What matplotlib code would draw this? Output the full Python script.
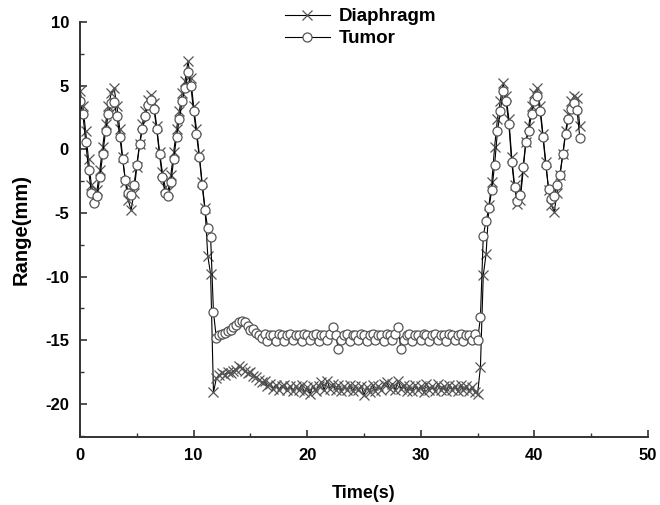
import numpy as np
import matplotlib
matplotlib.use("Agg")
import matplotlib.pyplot as plt
from matplotlib.ticker import MultipleLocator

plt.rcParams['font.family'] = ['Liberation Sans', 'DejaVu Sans']
plt.rcParams['axes.unicode_minus'] = False

sample_interval = 0.25  # s

diaphragm = [
    # 0.00 - 11.75 s
    4.6, 3.4, 1.4, -0.8, -2.8, -3.8, -3.2, -1.6, 0.2, 2.0, 3.4, 4.4,
    4.8, 3.4, 1.6, -0.6, -2.6, -4.0, -4.8, -3.4, -1.4, 0.4, 2.0, 3.0,
    3.9, 4.3, 3.6, 1.8, -0.2, -1.8, -3.0, -3.3, -2.0, -0.2, 1.6, 3.0,
    4.4, 5.4, 6.9, 5.6, 3.4, 1.6, -0.4, -2.6, -4.6, -8.4, -9.8, -19.1,
    # 12.00 - 35.00 s
    -18.0, -17.7, -17.6, -17.7,
    -17.5, -17.6, -17.4, -17.3,
    -17.0, -17.2, -17.4, -17.6,
    -17.5, -17.8, -17.9, -18.1,
    -18.3, -18.2, -18.6, -18.4,
    -18.8, -18.5, -18.9, -18.6,
    -18.5, -18.9, -18.6, -19.0,
    -18.6, -18.9, -18.5, -19.1,
    -18.7, -19.2, -18.6, -19.0,
    -18.6, -18.3, -18.9, -18.2,
    -18.8, -18.4, -18.9, -18.5,
    -19.0, -18.6, -18.9, -18.5,
    -19.0, -18.6, -18.9, -18.6,
    -19.3, -18.7, -19.1, -18.5,
    -19.0, -18.6, -18.9, -18.4,
    -18.3, -18.8, -18.4, -18.9,
    -18.2, -18.8, -18.5, -19.0,
    -18.6, -19.0, -18.5, -18.9,
    -18.6, -19.1, -18.4, -18.9,
    -18.6, -19.0, -18.4, -18.9,
    -18.6, -19.0, -18.5, -18.9,
    -18.6, -19.0, -18.5, -18.9,
    -18.6, -19.0, -18.7, -19.1,
    -19.2,
    # 35.25 - 44.00 s
    -17.1, -9.9, -8.2, -4.4, -2.6, 0.2, 2.4, 3.8, 5.2, 4.2, 2.4, -0.6,
    -2.8, -4.3, -4.0, -1.8, 0.6, 1.8, 3.4, 4.4, 4.8, 3.4, 1.2, -1.0,
    -3.2, -4.4, -4.9, -3.4, -2.0, -0.4, 1.4, 2.8, 3.8, 4.2, 4.0, 1.8,
]

tumor = [
    # 0.00 - 11.75 s
    3.8, 2.8, 0.6, -1.6, -3.4, -4.2, -3.7, -2.2, -0.4, 1.4, 2.8, 3.6,
    3.7, 2.6, 1.0, -0.8, -2.4, -3.4, -3.6, -2.8, -1.2, 0.4, 1.6, 2.6,
    3.5, 3.9, 3.2, 1.6, -0.4, -2.2, -3.4, -3.7, -2.6, -0.8, 1.0, 2.4,
    3.8, 4.8, 6.1, 5.0, 3.0, 1.2, -0.6, -2.8, -4.8, -6.2, -6.9, -12.8,
    # 12.00 - 35.00 s
    -14.8, -14.6, -14.5, -14.4,
    -14.3, -14.2, -14.0, -13.8,
    -13.6, -13.5, -13.6, -13.9,
    -14.2, -14.1, -14.4, -14.6,
    -14.8, -14.5, -15.1, -14.6,
    -14.6, -15.1, -14.5, -14.6,
    -15.1, -14.6, -14.5, -15.0,
    -14.6, -14.6, -15.1, -14.5,
    -14.6, -15.0, -14.6, -14.5,
    -15.1, -14.6, -14.6, -15.0,
    -14.5, -14.0, -14.6, -15.7,
    -15.0, -14.6, -14.5, -15.1,
    -14.6, -14.6, -15.0, -14.5,
    -14.6, -15.1, -14.6, -14.5,
    -15.0, -14.6, -14.6, -15.1,
    -14.5, -14.6, -15.0, -14.5,
    -14.0, -15.7, -15.0, -14.6,
    -14.5, -15.1, -14.6, -14.6,
    -15.0, -14.5, -14.6, -15.1,
    -14.6, -14.5, -15.0, -14.6,
    -14.6, -15.1, -14.5, -14.6,
    -15.0, -14.6, -14.5, -15.1,
    -14.6, -14.6, -15.0, -14.5,
    -15.0,
    # 35.25 - 44.00 s
    -13.2, -6.8, -5.6, -4.6, -3.2, -1.2, 1.4, 3.0, 4.6, 3.8, 2.0, -1.0,
    -3.0, -4.1, -3.6, -1.4, 0.6, 1.4, 2.8, 3.8, 4.2, 3.0, 1.0, -1.2,
    -3.1, -3.9, -3.7, -2.8, -2.0, -0.4, 1.2, 2.4, 3.2, 3.6, 3.1, 0.9,
]

n = min(len(diaphragm), len(tumor))
time = np.arange(n) * sample_interval

fig = plt.figure(figsize=(6.6, 5.05), dpi=100)
ax = fig.add_axes([0.1212, 0.1347, 0.8606, 0.8218])

ax.plot(time, diaphragm[:n], color='black', lw=0.8, marker='x', ms=7,
        mec='#555555', mew=0.9, label='Diaphragm')
ax.plot(time, tumor[:n], color='black', lw=0.8, marker='o', ms=6.5,
        mfc='white', mec='#555555', mew=0.9, label='Tumor')

ax.set_xlim(0, 50)
ax.set_ylim(-22.6, 10)
ax.xaxis.set_major_locator(MultipleLocator(10))
ax.xaxis.set_minor_locator(MultipleLocator(5))
ax.yaxis.set_major_locator(MultipleLocator(5))
ax.yaxis.set_minor_locator(MultipleLocator(2.5))

for s in ['top', 'right']:
    ax.spines[s].set_visible(False)
for s in ['left', 'bottom']:
    ax.spines[s].set_linewidth(1.4)
    ax.spines[s].set_color('#333333')

ax.tick_params(which='major', direction='in', length=5, width=1.2,
               colors='#333333', labelcolor='black', labelsize=12, pad=8)
ax.tick_params(which='minor', direction='in', length=3, width=1.0,
               colors='#333333')
for lab in ax.get_xticklabels() + ax.get_yticklabels():
    lab.set_fontweight('bold')

ax.set_xlabel('Time(s)', fontsize=13, fontweight='bold', labelpad=16)
ax.set_ylabel('Range(mm)', fontsize=14.5, fontweight='bold', labelpad=10)

leg = ax.legend(loc='upper left', bbox_to_anchor=(0.417, 1.002),
                bbox_transform=fig.transFigure, frameon=False,
                numpoints=1, handlelength=2.4, handletextpad=0.5,
                labelspacing=0.25, borderpad=0,
                prop={'weight': 'bold', 'size': 13.5})

fig.savefig('out.png', dpi=100)
